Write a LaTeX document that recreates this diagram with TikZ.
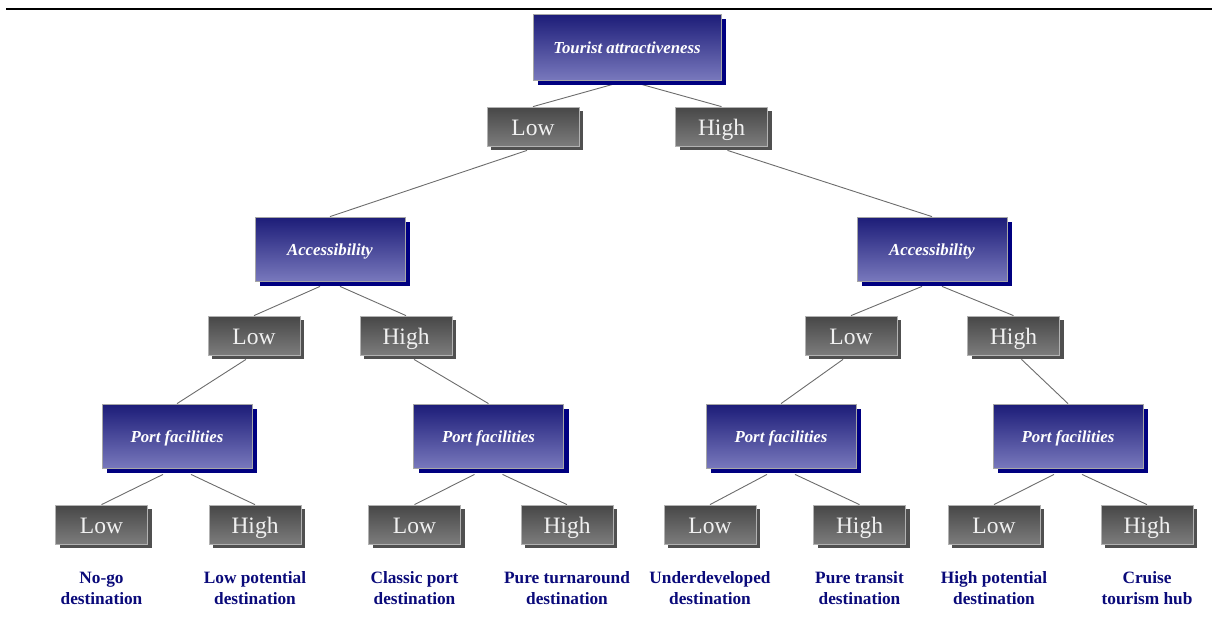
\documentclass[tikz,border=0pt]{standalone}
\usepackage{fontspec}
\setmainfont{Liberation Serif}
\usetikzlibrary{shadows,calc}
\pgfdeclarelayer{background}
\pgfsetlayers{background,main}
\definecolor{bluetop}{HTML}{1C1C78}
\definecolor{bluebot}{HTML}{7878BC}
\definecolor{navyshadow}{HTML}{000080}
\definecolor{graytop}{HTML}{474747}
\definecolor{graybot}{HTML}{7C7C7C}
\definecolor{grayshadow}{HTML}{505050}
\definecolor{leafblue}{HTML}{0A0A7A}
\tikzset{
  bluebox/.style={rectangle, top color=bluetop, bottom color=bluebot, draw=gray!70, line width=0.8pt,
    minimum width=150pt, minimum height=64pt, inner sep=0pt, text=white,
    text height=15pt, text depth=3pt,
    font=\fontsize{16.8}{19}\selectfont\bfseries\itshape,
    drop shadow={shadow xshift=5pt, shadow yshift=-5pt, fill=navyshadow, opacity=1}},
  graybox/.style={rectangle, top color=graytop, bottom color=graybot, draw=gray!60, line width=0.8pt,
    minimum width=92pt, minimum height=39pt, inner sep=0pt, text=white!94!black,
    text height=20pt, text depth=3pt,
    font=\fontsize{23.5}{26}\selectfont,
    drop shadow={shadow xshift=4pt, shadow yshift=-4pt, fill=grayshadow, opacity=1}},
  leaf/.style={align=center, text=leafblue, font=\fontsize{17.3}{21}\selectfont\bfseries, inner sep=0pt},
  conn/.style={draw=gray!85!black, line width=0.9pt}
}
\begin{document}
\begin{tikzpicture}[x=1pt,y=-1pt]
\useasboundingbox (0,0) rectangle (1212,625);
\coordinate (rl) at (6,9);
\coordinate (rr) at (1212,9);
\draw[line width=2.6pt] (rl) -- (rr);

\node[bluebox, minimum width=188pt, minimum height=66pt] (top) at (627,47) {Tourist attractiveness};
\node[graybox] (l1) at (533,126.5) {Low};
\node[graybox] (h1) at (721.5,126.5) {High};

\node[bluebox] (accL) at (330,249) {Accessibility};
\node[bluebox] (accR) at (932,249) {Accessibility};

\node[graybox] (l2a) at (254,335.5) {Low};
\node[graybox] (h2a) at (406,335.5) {High};
\node[graybox] (l2b) at (851,335.5) {Low};
\node[graybox] (h2b) at (1013.5,335.5) {High};

\node[bluebox] (p1) at (177,436) {Port facilities};
\node[bluebox] (p2) at (488.5,436) {Port facilities};
\node[bluebox] (p3) at (781,436) {Port facilities};
\node[bluebox] (p4) at (1068,436) {Port facilities};

\node[graybox] (a1) at (101.5,524.5) {Low};
\node[graybox] (a2) at (255,524.5) {High};
\node[graybox] (a3) at (414.5,524.5) {Low};
\node[graybox] (a4) at (567,524.5) {High};
\node[graybox] (a5) at (710,524.5) {Low};
\node[graybox] (a6) at (859.5,524.5) {High};
\node[graybox] (a7) at (994,524.5) {Low};
\node[graybox] (a8) at (1147,524.5) {High};

\node[leaf] (t1) at (101.5,588.5) {No-go\\destination};
\node[leaf] (t2) at (255,588.5) {Low potential\\destination};
\node[leaf] (t3) at (414.5,588.5) {Classic port\\destination};
\node[leaf] (t4) at (567,588.5) {Pure turnaround\\destination};
\node[leaf] (t5) at (710,588.5) {Underdeveloped\\destination};
\node[leaf] (t6) at (859.5,588.5) {Pure transit\\destination};
\node[leaf] (t7) at (994,588.5) {High potential\\destination};
\node[leaf] (t8) at (1147,588.5) {Cruise\\tourism hub};

\begin{pgfonlayer}{background}
\draw[conn] (top.south) -- (l1.north);
\draw[conn] (top.south) -- (h1.north);
\draw[conn] ($(l1.south)+(-6,4)$) -- (accL.north);
\draw[conn] ($(h1.south)+(6,4)$) -- (accR.north);
\draw[conn] ($(accL.south)+(-10,5)$) -- (l2a.north);
\draw[conn] ($(accL.south)+(10,5)$) -- (h2a.north);
\draw[conn] ($(accR.south)+(-10,5)$) -- (l2b.north);
\draw[conn] ($(accR.south)+(10,5)$) -- (h2b.north);
\draw[conn] ($(l2a.south)+(-8,4)$) -- (p1.north);
\draw[conn] ($(h2a.south)+(8,4)$) -- (p2.north);
\draw[conn] ($(l2b.south)+(-8,4)$) -- (p3.north);
\draw[conn] ($(h2b.south)+(8,4)$) -- (p4.north);
\draw[conn] ($(p1.south)+(-14,6)$) -- (a1.north);
\draw[conn] ($(p1.south)+(14,6)$) -- (a2.north);
\draw[conn] ($(p2.south)+(-14,6)$) -- (a3.north);
\draw[conn] ($(p2.south)+(14,6)$) -- (a4.north);
\draw[conn] ($(p3.south)+(-14,6)$) -- (a5.north);
\draw[conn] ($(p3.south)+(14,6)$) -- (a6.north);
\draw[conn] ($(p4.south)+(-14,6)$) -- (a7.north);
\draw[conn] ($(p4.south)+(14,6)$) -- (a8.north);
\end{pgfonlayer}
\end{tikzpicture}
\end{document}
